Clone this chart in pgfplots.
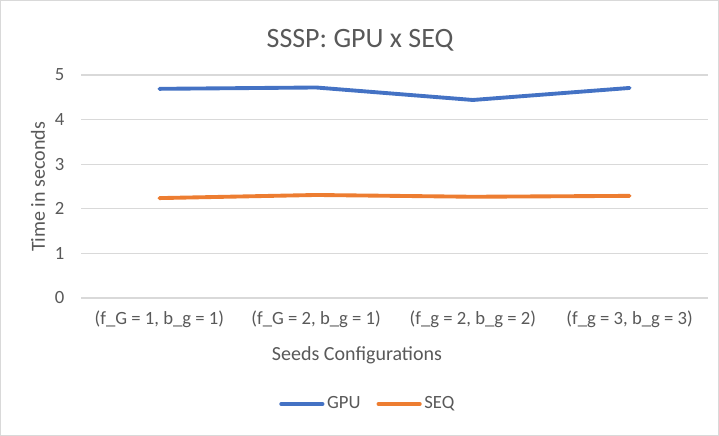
\documentclass[border=0pt]{standalone}
\usepackage{pgfplots}
\pgfplotsset{compat=1.18}
\usepackage{fontspec}
\setmainfont{Carlito}
\definecolor{gpu}{HTML}{4472C4}
\definecolor{seq}{HTML}{ED7D31}
\definecolor{txt}{HTML}{595959}
\definecolor{gridc}{HTML}{D9D9D9}
\begin{document}
\begin{tikzpicture}[x=0.75pt,y=0.75pt]
\draw[draw=gridc, line width=0.75pt, fill=white] (0.5,0.5) rectangle (718.5,435.5);
\begin{axis}[
  at={(60.75pt,103.5pt)}, anchor=south west,
  scale only axis, width=470.25pt, height=167.25pt,
  xmin=-0.5, xmax=3.5, ymin=0, ymax=5,
  xtick={0,1,2,3},
  xticklabels={{(f\_G = 1, b\_g = 1)},{(f\_G = 2, b\_g = 1)},{(f\_g = 2, b\_g = 2)},{(f\_g = 3, b\_g = 3)}},
  ytick={0,1,2,3,4,5},
  ymajorgrids, grid style={draw=gridc, line width=0.9pt},
  axis line style={draw=none},
  major tick length=0pt,
  /pgf/number format/assume math mode=true,
  tick label style={font=\fontsize{14}{16}\selectfont, text=txt},
  xticklabel style={yshift=-6pt},
  yticklabel style={xshift=-9pt},
  legend style={at={(0.458,-0.475)}, anchor=center, draw=none, fill=none,
    legend columns=2, font=\fontsize{14}{16}\selectfont, text=txt,
    /tikz/every even column/.append style={column sep=10pt}},
  legend image code/.code={\draw[#1] (0pt,0pt) -- (31pt,0pt);},
]
\addplot[gpu, line width=2.9pt, line cap=round, line join=round] coordinates {(0,4.69) (1,4.72) (2,4.44) (3,4.71)};
\addlegendentry{GPU}
\addplot[seq, line width=2.9pt, line cap=round, line join=round] coordinates {(0,2.24) (1,2.31) (2,2.27) (3,2.29)};
\addlegendentry{SEQ}
\end{axis}
\node[text=txt, font=\fontsize{21}{24}\selectfont] at (360,396) {SSSP: GPU x SEQ};
\node[text=txt, font=\fontsize{15}{18}\selectfont] at (357,81) {Seeds Configurations};
\node[text=txt, font=\fontsize{15}{18}\selectfont, rotate=90] at (38,249) {Time in seconds};
\end{tikzpicture}
\end{document}
